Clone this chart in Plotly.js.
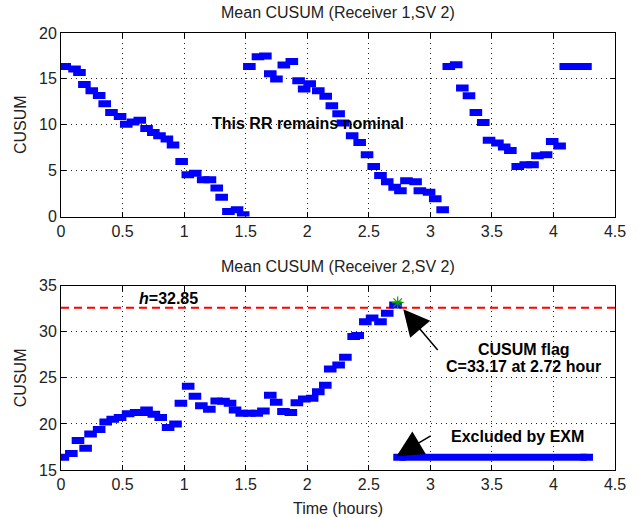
<!DOCTYPE html>
<html>
<head>
<meta charset="utf-8">
<script src="https://cdn.plot.ly/plotly-3.0.1.min.js"></script>
<style>html,body{margin:0;padding:0;background:#fff;}</style>
</head>
<body>
<div id="chart" style="width:639px;height:518px;"></div>
<script>
// Receiver 1, SV 2
const time1 = [0.03,0.11,0.15,0.19,0.25,0.31,0.355,0.41,0.48,0.53,0.585,0.64,0.695,0.75,0.80,0.86,0.91,0.98,1.03,1.09,1.155,1.21,1.265,1.305,1.36,1.43,1.48,1.53,1.60,1.66,1.70,1.75,1.81,1.875,1.93,1.975,2.02,2.09,2.15,2.20,2.255,2.29,2.365,2.426,2.486,2.54,2.595,2.65,2.71,2.757,2.806,2.88,2.915,2.99,3.04,3.10,3.15,3.21,3.26,3.314,3.37,3.43,3.477,3.545,3.60,3.65,3.71,3.775,3.83,3.87,3.94,3.99,4.05,4.10,4.14,4.18,4.22,4.26];
const cusum1 = [16.36,16.07,15.7,14.4,13.7,13.2,12.3,11.35,10.9,10.07,10.3,10.5,9.6,9.16,8.8,8.44,7.8,6.0,4.55,4.73,4.0,4.0,3.1,2.1,0.55,0.73,0.2,16.36,17.4,17.5,15.56,15.0,16.5,16.9,14.8,13.9,14.47,13.7,13.1,12.07,11.2,10.2,8.8,8.07,6.73,5.45,4.47,3.8,3.2,2.8,3.9,3.8,2.8,2.65,1.93,0.73,16.36,16.54,14.0,13.16,11.35,10.25,8.3,8.0,7.57,7.2,5.45,5.64,5.64,6.62,6.73,8.18,7.7,16.36,16.36,16.36,16.36,16.36];

// Receiver 2, SV 2
const time2 = [0.015,0.084,0.138,0.20,0.24,0.31,0.363,0.42,0.48,0.545,0.61,0.66,0.695,0.754,0.81,0.87,0.93,0.974,1.033,1.088,1.14,1.205,1.265,1.32,1.373,1.414,1.468,1.53,1.59,1.644,1.70,1.748,1.807,1.867,1.916,1.976,2.04,2.09,2.147,2.187,2.255,2.31,2.377,2.41,2.472,2.527,2.595,2.65,2.717];
const cusum2 = [16.38,16.8,18.2,17.36,18.9,19.4,20.2,20.5,20.7,21.1,21.23,21.23,21.5,21.05,20.7,19.6,20.0,22.25,24.1,23.0,21.96,21.6,22.5,22.45,22.25,21.5,21.16,21.16,21.16,21.4,23.1,22.36,21.35,21.23,22.3,22.7,22.8,23.5,24.2,25.95,26.4,27.25,29.5,29.6,31.1,31.5,31.1,32.0,32.9];

// Exclusion segment (after flag)
const exclTime = [2.75, 4.27];
const exclCusum = [16.38, 16.38];

// Threshold and flag
const threshold = 32.6;
const flagTime = [2.735];
const flagCusum = [33.17];

const xTicks = [0,0.5,1,1.5,2,2.5,3,3.5,4,4.5];
const yTicks1 = [0,5,10,15,20];
const yTicks2 = [15,20,25,30,35];

const FONT = 'Liberation Sans, Arial, Helvetica, sans-serif';
const mk = {symbol:'line-ew', size:9, color:'#0000ff', line:{color:'#0000ff', width:7}};

const traces = [
  {x:time1, y:cusum1, xaxis:'x', yaxis:'y', mode:'markers', marker:mk, type:'scatter', showlegend:false},
  {x:[0,4.5], y:[threshold,threshold], xaxis:'x2', yaxis:'y2', mode:'lines', line:{color:'#ff0000', width:2, dash:'8px,5px'}, showlegend:false},
  {x:time2, y:cusum2, xaxis:'x2', yaxis:'y2', mode:'markers', marker:mk, type:'scatter', showlegend:false},
  {x:exclTime, y:exclCusum, xaxis:'x2', yaxis:'y2', mode:'lines+markers', line:{color:'#0000ff', width:7}, marker:mk, showlegend:false},
  {x:flagTime, y:flagCusum, xaxis:'x2', yaxis:'y2', mode:'markers', marker:{symbol:'asterisk-open', size:10, color:'#00a000', line:{color:'#00a000', width:1.2}}, showlegend:false}
];

const axBase = {
  showline:true, linecolor:'#000', linewidth:1, mirror:'ticks', ticks:'inside', ticklen:5, tickcolor:'#000',
  showgrid:true, gridcolor:'#222', gridwidth:1, griddash:'1px,4px', zeroline:false,
  tickfont:{family:FONT, size:16, color:'#222'}
};
const axTitleFont = {family:FONT, size:16, color:'#222'};
const annFont = {family:FONT, size:16, color:'#000'};

const layout = {
  width:639, height:518,
  margin:{l:61, r:24, t:33, b:48},
  paper_bgcolor:'#fff', plot_bgcolor:'#fff',
  font:{family:FONT},
  xaxis: Object.assign({}, axBase, {domain:[0,1], range:[0,4.5], tickvals:xTicks, anchor:'y'}),
  yaxis: Object.assign({}, axBase, {domain:[0.58,1], range:[0,20], tickvals:yTicks1, anchor:'x',
    title:{text:'CUSUM', font:axTitleFont, standoff:8}}),
  xaxis2: Object.assign({}, axBase, {domain:[0,1], range:[0,4.5], tickvals:xTicks, anchor:'y2',
    title:{text:'Time (hours)', font:axTitleFont, standoff:10}}),
  yaxis2: Object.assign({}, axBase, {domain:[0,0.4217], range:[15,35], tickvals:yTicks2, anchor:'x2',
    title:{text:'CUSUM', font:axTitleFont, standoff:8}}),
  annotations:[
    {text:'Mean CUSUM (Receiver 1,SV 2)', xref:'paper', yref:'paper', x:0.5, y:1.046, showarrow:false, font:{family:FONT, size:16, color:'#222'}, xanchor:'center', yanchor:'middle'},
    {text:'Mean CUSUM (Receiver 2,SV 2)', xref:'paper', yref:'paper', x:0.5, y:0.4665, showarrow:false, font:{family:FONT, size:16, color:'#222'}, xanchor:'center', yanchor:'middle'},
    {text:'<b>This RR remains nominal</b>', xref:'x', yref:'y', x:2.01, y:10.1, showarrow:false, font:annFont},
    {text:'<b><i>h</i>=32.85</b>', xref:'x2', yref:'y2', x:0.87, y:33.6, showarrow:false, font:annFont},
    {text:'<b>CUSUM flag</b>', xref:'x2', yref:'y2', x:3.76, y:28.1, showarrow:false, font:annFont},
    {text:'<b>C=33.17 at 2.72 hour</b>', xref:'x2', yref:'y2', x:3.76, y:26.2, showarrow:false, font:annFont},
    {text:'<b>Excluded by EXM</b>', xref:'x2', yref:'y2', x:3.71, y:18.6, showarrow:false, font:annFont},
    {text:'', xref:'x2', yref:'y2', x:2.78, y:32.45, axref:'x2', ayref:'y2', ax:3.07, ay:27.86, showarrow:true, arrowhead:2, arrowsize:3.5, arrowwidth:1.5, arrowcolor:'#000', standoff:0, startstandoff:0},
    {text:'', xref:'x2', yref:'y2', x:2.725, y:16.5, axref:'x2', ayref:'y2', ax:3.015, ay:18.8, showarrow:true, arrowhead:2, arrowsize:3.5, arrowwidth:1.5, arrowcolor:'#000', standoff:0, startstandoff:0}
  ]
};

Plotly.newPlot('chart', traces, layout, {displayModeBar:false, staticPlot:true});
</script>
</body>
</html>
